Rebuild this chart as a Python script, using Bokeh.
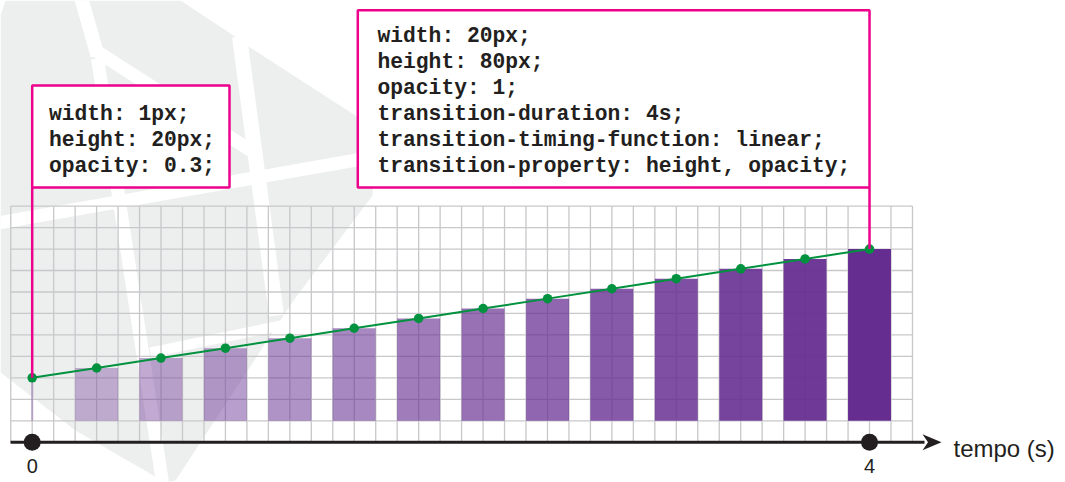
from bokeh.plotting import figure
from bokeh.models import Range1d
from bokeh.core.properties import value
from bokeh.embed import file_html
from bokeh.resources import INLINE

# ---------------- data ----------------
times = [0, 0.308, 0.615, 0.923, 1.231, 1.538, 1.846, 2.154, 2.462, 2.769, 3.077, 3.385, 3.692, 4.0]
heights_px = [20, 24.6, 29.2, 33.8, 38.5, 43.1, 47.7, 52.3, 56.9, 61.5, 66.2, 70.8, 75.4, 80]
widths_px = [1, 20, 20, 20, 20, 20, 20, 20, 20, 20, 20, 20, 20, 20]
opacities = [0.3, 0.354, 0.408, 0.462, 0.515, 0.569, 0.623, 0.677, 0.731, 0.785, 0.838, 0.892, 0.946, 1.0]
tick_times = [0, 4]
tick_labels = ["0", "4"]
axis_label = "tempo (s)"
start_css = ["width: 1px;", "height: 20px;", "opacity: 0.3;"]
end_css = ["width: 20px;", "height: 80px;", "opacity: 1;", "transition-duration: 4s;",
           "transition-timing-function: linear;", "transition-property: height, opacity;"]

# ---------------- layout helpers (picture px -> data) ----------------
X0, PXS = 31.7, 209.33      # picture x of t=0, px per second
Y0, PYH = 420.3, 2.147      # picture y of height 0, picture px per css px
def dx(px): return (px - X0) / PXS
def dy(py): return (Y0 - py) / PYH
PX_PER_SEC_CSS = PXS / PYH  # css px per second on the x scale

W, H = 1065, 482
p = figure(width=W, height=H, output_backend="svg", toolbar_location=None,
           x_range=Range1d(dx(0), dx(W)), y_range=Range1d(dy(H), dy(0)),
           x_axis_type=None, y_axis_type=None, min_border=0,
           min_border_left=0, min_border_right=0, min_border_top=0, min_border_bottom=0)
p.grid.visible = False
p.outline_line_color = None
p.background_fill_color = "white"
p.border_fill_color = "white"

# ---------------- decorative watermark ----------------
GRAY = "#edeeee"
outline = [(5, 0), (180, 0), (230, 33), (248, 46), (375, 128), (372, 195), (293, 300),
           (270, 335), (175, 480), (165, 482), (75, 430), (0, 372), (0, 15)]
p.patch([dx(a) for a, b in outline], [dy(b) for a, b in outline], fill_color=GRAY, line_color=None)
bands = [([(80, -5), (97, 55)], 14), ([(95, 50), (255, 153)], 13), ([(239, 36), (276, 315)], 15),
         ([(-5, 223), (370, 157)], 13), ([(97, 58), (162, 482)], 13), ([(150, 352), (285, 324)], 10)]
for pts, w in bands:
    p.line([dx(a) for a, b in pts], [dy(b) for a, b in pts], line_color="white", line_width=w)

# ---------------- graph paper grid ----------------
cell_t = times[-1] / 39.0
cell_h = 10
cols = [k * cell_t for k in range(-1, 42)]
rows = [k * cell_h for k in range(0, 11)]
GRID = "#c8c8cb"
p.segment(x0=cols, y0=[-cell_h] * len(cols), x1=cols, y1=[100] * len(cols),
          line_color=GRID, line_width=1.3)
p.segment(x0=[cols[0]] * len(rows), y0=rows, x1=[cols[-1]] * len(rows), y1=rows,
          line_color=GRID, line_width=1.3)

# ---------------- bars ----------------
p.vbar(x=times, top=heights_px, bottom=0, width=[w / PX_PER_SEC_CSS for w in widths_px],
       fill_color="#662d91", fill_alpha=opacities, line_color=None)

# ---------------- time axis ----------------
AX = "#231f20"
p.segment(x0=[dx(10)], y0=[-cell_h], x1=[dx(924)], y1=[-cell_h], line_color=AX, line_width=3)
ay = 441.7
head = [(941, ay), (922, ay - 8), (927.5, ay), (922, ay + 8)]
p.patch([dx(a) for a, b in head], [dy(b) for a, b in head], fill_color=AX, line_color=None)
p.scatter(tick_times, [-cell_h] * len(tick_times), size=17, fill_color=AX, line_color=None)
p.text(x=tick_times, y=[dy(458)] * len(tick_times), text=tick_labels, text_align="center",
       text_baseline="top", text_font=value("Liberation Sans"), text_font_size="20px", text_color=AX)
p.text(x=[dx(953)], y=[dy(447.5)], text=[axis_label], text_align="left", text_baseline="alphabetic",
       text_font=value("Liberation Sans"), text_font_size="24px", text_color=AX)

# ---------------- linear timing line ----------------
GREEN = "#00923f"
p.line(times, heights_px, line_color=GREEN, line_width=2)
p.scatter(times, heights_px, size=9.5, fill_color=GREEN, line_color=None)

# ---------------- annotation boxes ----------------
PINK = "#ec008c"
box_bottom = 187
p.segment(x0=[times[0], times[-1]], y0=[dy(box_bottom)] * 2, x1=[times[0], times[-1]],
          y1=[heights_px[0], heights_px[-1]], line_color=PINK, line_width=2.5)
p.quad(left=[times[0], dx(357.3)], right=[dx(229), times[-1]],
       top=[dy(85), dy(9.7)], bottom=[dy(box_bottom)] * 2,
       fill_color="white", line_color=PINK, line_width=2.5)

base0, step = 35.5, 25.9
p.text(x=[dx(48.5)] * len(start_css), y=[dy(base0 + step * (3 + i)) for i in range(len(start_css))],
       text=start_css, text_align="left", text_baseline="alphabetic",
       text_font=value("Liberation Mono"), text_font_style="bold", text_font_size="21.3px", text_color=AX)
p.text(x=[dx(377)] * len(end_css), y=[dy(base0 + step * i) for i in range(len(end_css))],
       text=end_css, text_align="left", text_baseline="alphabetic",
       text_font=value("Liberation Mono"), text_font_style="bold", text_font_size="21.3px", text_color=AX)

open("out.html", "w").write(file_html(p, INLINE))
